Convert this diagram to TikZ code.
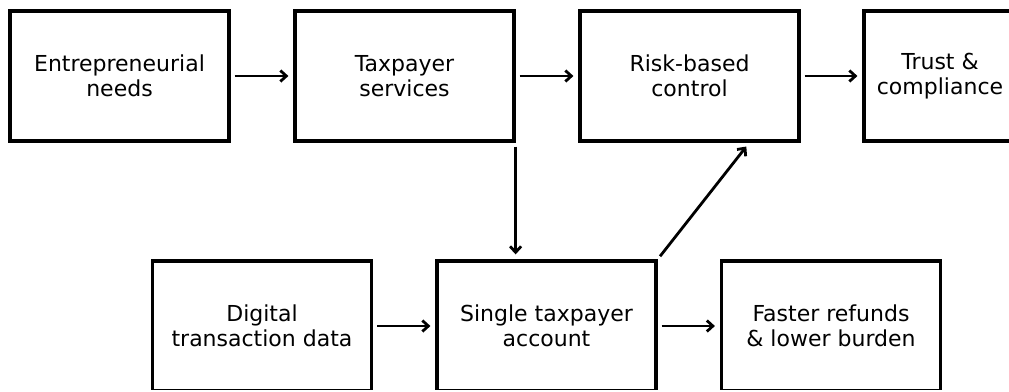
\documentclass[tikz,border=0pt]{standalone}
\usepackage{fontspec}
\setmainfont{DejaVu Sans}
\usetikzlibrary{arrows.meta,calc}
\begin{document}
\begin{tikzpicture}[x=1pt,y=-1pt,
  box/.style={draw=black, line width=3.2pt, minimum width=219pt, minimum height=130pt,
    inner sep=0pt, align=center, font=\fontsize{22}{25}\selectfont},
  conn/.style={line width=2.8pt, -{Straight Barb[length=6pt,width=11pt,line width=2.8pt]},
    shorten <=4pt, shorten >=5pt}]
\useasboundingbox (0,0) rectangle (1009,391);
\fill[white] (0,0) rectangle (1009,391);
\clip (0,0) rectangle (1009,389);
\node[box] (b1) at (119.5,76) {Entrepreneurial\\needs};
\node[box] (b2) at (404.5,76) {Taxpayer\\services};
\node[box] (b3) at (689.5,76) {Risk-based\\control};
\node[box, minimum width=152pt] (b4) at (940,76) {Trust \&\\compliance};
\node[box] (b5) at (262,326) {Digital\\transaction data};
\node[box] (b6) at (546.5,326) {Single taxpayer\\account};
\node[box] (b7) at (831,326) {Faster refunds\\\& lower burden};
\coordinate (t) at ($(b3.south west)+(171,0)$);
\draw[conn] (b1.east) -- (b2.west);
\draw[conn] (b2.east) -- (b3.west);
\draw[conn] (b3.east) -- (b4.west);
\draw[conn] (b5.east) -- (b6.west);
\draw[conn] (b6.east) -- (b7.west);
\draw[conn] (b2.south east) -- (b2.south east |- b6.north);
\draw[conn] (b6.north east) -- (t);
\end{tikzpicture}
\end{document}
